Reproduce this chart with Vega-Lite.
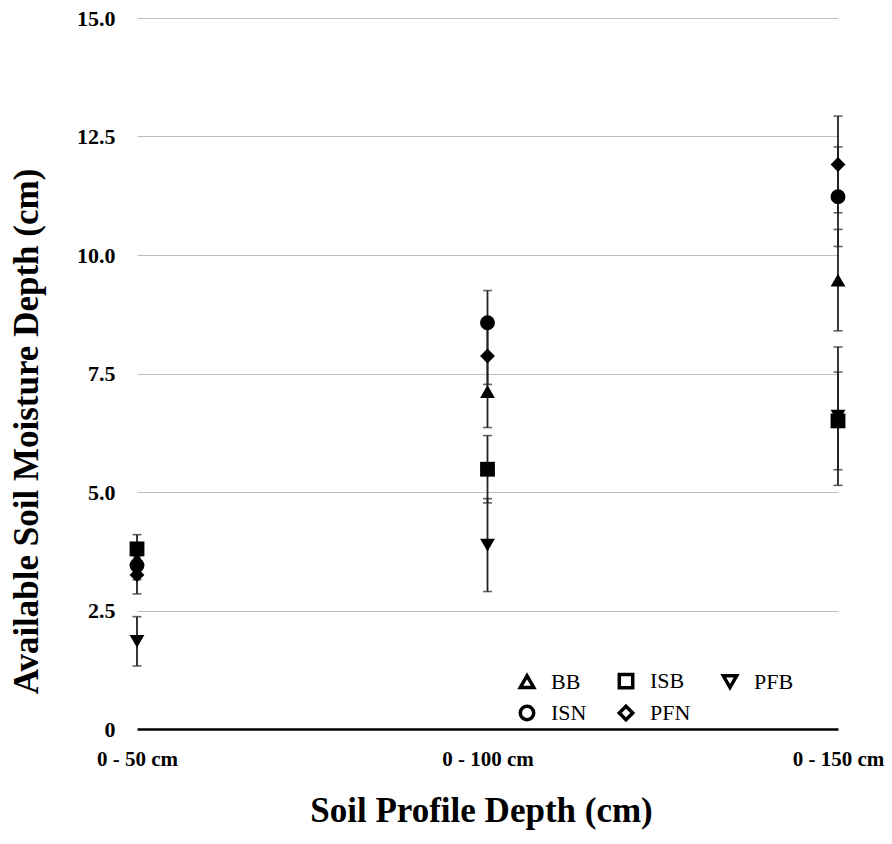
{
  "$schema": "https://vega.github.io/schema/vega-lite/v6.json",
  "width": 701,
  "height": 711,
  "autosize": {"type": "none"},
  "padding": {"left": 137, "top": 18, "right": 54, "bottom": 115},
  "background": "white",
  "config": {
    "view": {"stroke": null},
    "font": "Liberation Serif"
  },
  "data": {
    "values": [
      {"depth": "0 - 50 cm", "site": "BB", "value": 3.6, "err": 0.3},
      {"depth": "0 - 50 cm", "site": "ISB", "value": 3.8, "err": 0.3},
      {"depth": "0 - 50 cm", "site": "PFB", "value": 1.85, "err": 0.52},
      {"depth": "0 - 50 cm", "site": "ISN", "value": 3.45, "err": 0.3},
      {"depth": "0 - 50 cm", "site": "PFN", "value": 3.25, "err": 0.4},
      {"depth": "0 - 100 cm", "site": "BB", "value": 7.12, "err": 0.76},
      {"depth": "0 - 100 cm", "site": "ISB", "value": 5.48, "err": 0.71},
      {"depth": "0 - 100 cm", "site": "PFB", "value": 3.88, "err": 0.98},
      {"depth": "0 - 100 cm", "site": "ISN", "value": 8.57, "err": 0.68},
      {"depth": "0 - 100 cm", "site": "PFN", "value": 7.87, "err": 0.6},
      {"depth": "0 - 150 cm", "site": "BB", "value": 9.47, "err": 1.07},
      {"depth": "0 - 150 cm", "site": "PFB", "value": 6.6, "err": 1.46},
      {"depth": "0 - 150 cm", "site": "ISB", "value": 6.5, "err": 1.03},
      {"depth": "0 - 150 cm", "site": "ISN", "value": 11.23, "err": 1.05},
      {"depth": "0 - 150 cm", "site": "PFN", "value": 11.91, "err": 1.02}
    ]
  },
  "encoding": {
    "x": {
      "field": "depth",
      "type": "ordinal",
      "scale": {"type": "point", "padding": 0, "domain": ["0 - 50 cm", "0 - 100 cm", "0 - 150 cm"]},
      "axis": {
        "title": "Soil Profile Depth (cm)",
        "titleFont": "Liberation Serif",
        "titleFontSize": 35,
        "titleFontWeight": "bold",
        "titleColor": "black",
        "titleX": 344,
        "titleY": 81,
        "titleBaseline": "middle",
        "titleAnchor": "middle",
        "labelAngle": 0,
        "labelFont": "Liberation Serif",
        "labelFontSize": 21,
        "labelFontWeight": "bold",
        "labelColor": "black",
        "labelPadding": 19,
        "ticks": false,
        "domain": true,
        "domainColor": "black",
        "domainWidth": 2.5,
        "grid": false
      }
    }
  },
  "layer": [
    {
      "mark": {
        "type": "errorbar",
        "ticks": {"size": 9, "thickness": 1.6, "color": "#222"},
        "rule": {"strokeWidth": 1.8, "color": "#222"}
      },
      "encoding": {
        "y": {
          "field": "value",
          "type": "quantitative",
          "scale": {"domain": [0, 15], "nice": false},
          "axis": {
            "title": "Available Soil Moisture Depth (cm)",
            "titleFont": "Liberation Serif",
            "titleFontSize": 35,
            "titleFontWeight": "bold",
            "titleColor": "black",
            "titleAngle": -90,
            "titleX": -100,
            "titleY": 413,
            "titleBaseline": "alphabetic",
            "titleAnchor": "middle",
            "values": [0, 2.5, 5, 7.5, 10, 12.5, 15],
            "labelExpr": "datum.value === 0 ? '0' : format(datum.value, '.1f')",
            "labelFont": "Liberation Serif",
            "labelFontSize": 22,
            "labelFontWeight": "bold",
            "labelColor": "black",
            "labelPadding": 22,
            "ticks": false,
            "domain": false,
            "grid": true,
            "gridColor": "#bdbdbd",
            "gridWidth": 1.2
          }
        },
        "yError": {"field": "err"}
      }
    },
    {
      "mark": {"type": "point", "filled": true, "size": 220, "opacity": 1, "color": "black"},
      "encoding": {
        "y": {"field": "value", "type": "quantitative"},
        "shape": {
          "field": "site",
          "type": "nominal",
          "scale": {
            "domain": ["BB", "ISN", "ISB", "PFN", "PFB"],
            "range": ["triangle-up", "circle", "square", "diamond", "triangle-down"]
          },
          "legend": {
            "title": null,
            "orient": "none",
            "legendX": 379,
            "legendY": 652,
            "columns": 3,
            "columnPadding": 25,
            "rowPadding": 4,
            "padding": 0,
            "labelFont": "Liberation Serif",
            "labelFontSize": 22,
            "labelColor": "black",
            "labelOffset": 13,
            "symbolSize": 180,
            "symbolFillColor": "white",
            "symbolStrokeColor": "black",
            "symbolStrokeWidth": 3.5,
            "encoding": {
              "symbols": {
                "fill": {"value": "white"},
                "stroke": {"value": "black"},
                "strokeWidth": {"value": 3.5},
                "opacity": {"value": 1}
              }
            }
          }
        }
      }
    }
  ]
}
